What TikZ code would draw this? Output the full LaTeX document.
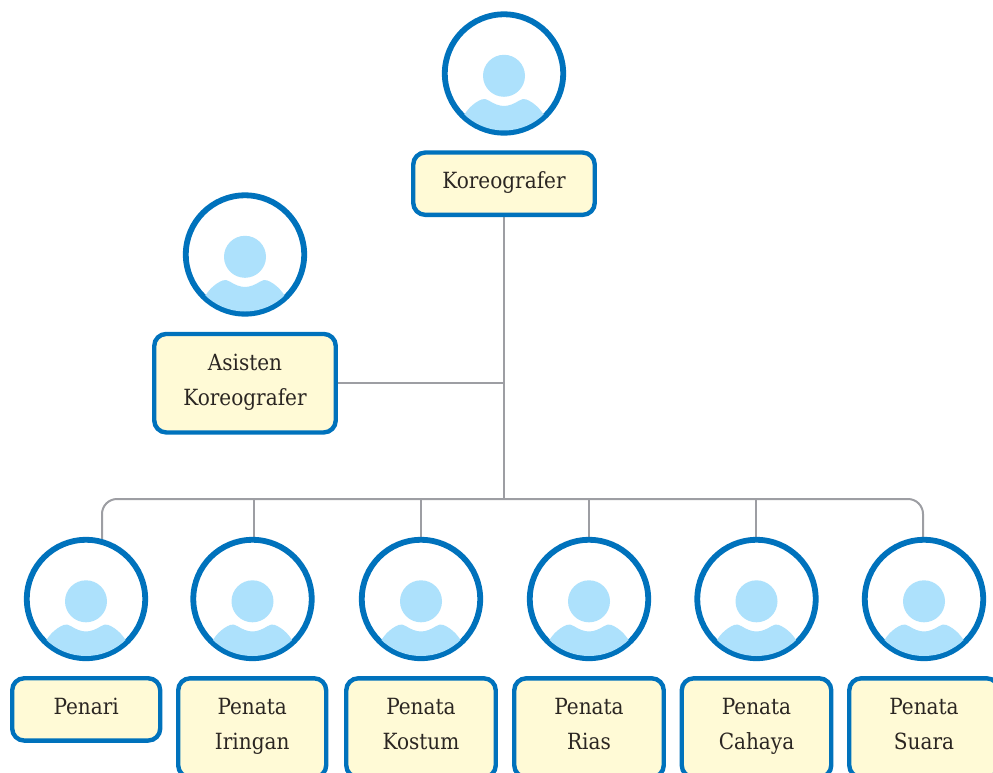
\documentclass[tikz,border=0pt]{standalone}
\usepackage{fontspec}
\setmainfont{DejaVu Serif Condensed}
\usetikzlibrary{backgrounds}
\definecolor{blueline}{HTML}{0072BC}
\definecolor{skyfill}{HTML}{ADE1FC}
\definecolor{creamfill}{HTML}{FFFAD6}
\definecolor{linkgray}{HTML}{9D9EA3}
\definecolor{inktext}{HTML}{2B2622}
\tikzset{
  px/.style={x=1pt,y=-1pt},
  avatar/.style={circle,draw=blueline,line width=5.8pt,minimum size=118.4pt,inner sep=0pt,fill=white},
  rolebox/.style={rectangle,rounded corners=12pt,draw=blueline,fill=creamfill,line width=4.4pt,inner sep=0pt},
  rolelabel/.style={text=inktext,font=\fontsize{22.3pt}{35pt}\selectfont,align=center,inner sep=0pt},
  link/.style={draw=linkgray,line width=2pt},
  figurefill/.style={fill=skyfill,draw=none},
}
\newcommand{\personfig}[2]{%
  \node[avatar] (#2) at (#1) {};
  \begin{scope}[shift={(#1)}]
    \fill[figurefill] (0,2.3) circle (21);
    \begin{scope}
      \clip (0,0) circle (57);
      \fill[figurefill] (-44,50) .. controls (-39,37) and (-31,29.5) .. (-22,25.8)
        .. controls (-19.5,25) and (-17.5,25.8) .. (-15,27.2)
        .. controls (-10,30.3) and (-5,32.5) .. (0,32.5)
        .. controls (5,32.5) and (10,30.3) .. (15,27.2)
        .. controls (17.5,25.8) and (19.5,25) .. (22,25.8)
        .. controls (31,29.5) and (39,37) .. (44,50) -- (44,62) -- (-44,62) -- cycle;
    \end{scope}
  \end{scope}}
\newcommand{\rolecard}[7]{%
  \node[rolebox,minimum width=#4pt,minimum height=#5pt] (#1) at (#2,#3) {};
  \node[rolelabel] (#1t) at (#2,#6) {#7};}
\begin{document}
\begin{tikzpicture}[px]
\useasboundingbox (0,0) rectangle (993,773);
\clip (0,0) rectangle (993,773);
\personfig{504,73.5}{a0}
\personfig{245,254.5}{a1}
\personfig{86,599}{a2}
\personfig{252.5,599}{a3}
\personfig{421,599}{a4}
\personfig{589,599}{a5}
\personfig{756.5,599}{a6}
\personfig{924,599}{a7}
\rolecard{b0}{504}{183.7}{181.5}{62.3}{181.5}{\strut Koreografer}
\rolecard{b1}{245}{383.2}{181.5}{98.5}{380.5}{\strut Asisten\\\strut Koreografer}
\rolecard{b2}{86.2}{709.4}{148}{62.3}{707}{\strut Penari}
\rolecard{b3}{252.2}{727.8}{148}{99}{724.5}{\strut Penata\\\strut Iringan}
\rolecard{b4}{421}{727.8}{149.5}{99}{724.5}{\strut Penata\\\strut Kostum}
\rolecard{b5}{589}{727.8}{149.5}{99}{724.5}{\strut Penata\\\strut Rias}
\rolecard{b6}{756.5}{727.8}{149.5}{99}{724.5}{\strut Penata\\\strut Cahaya}
\rolecard{b7}{924}{727.8}{149.5}{99}{724.5}{\strut Penata\\\strut Suara}
\coordinate (hub) at (504,383);
\coordinate (bus) at (504,499);
\coordinate (drop2) at (102,540);
\coordinate (drop3) at (253.5,540);
\coordinate (drop6) at (756,540);
\coordinate (drop7) at (923,538);
\begin{scope}[on background layer]
\draw[link] (b0.south) -- (bus);
\draw[link] (b1.east |- hub) -- (hub);
\draw[link,rounded corners=15pt] (drop2) -- (drop2 |- bus) -- (drop7 |- bus) -- (drop7);
\draw[link] (drop3 |- bus) -- (drop3);
\draw[link] (drop6 |- bus) -- (drop6);
\foreach \n in {a4,a5} \draw[link] (\n.north |- bus) -- (\n.north);
\end{scope}
\end{tikzpicture}
\end{document}
